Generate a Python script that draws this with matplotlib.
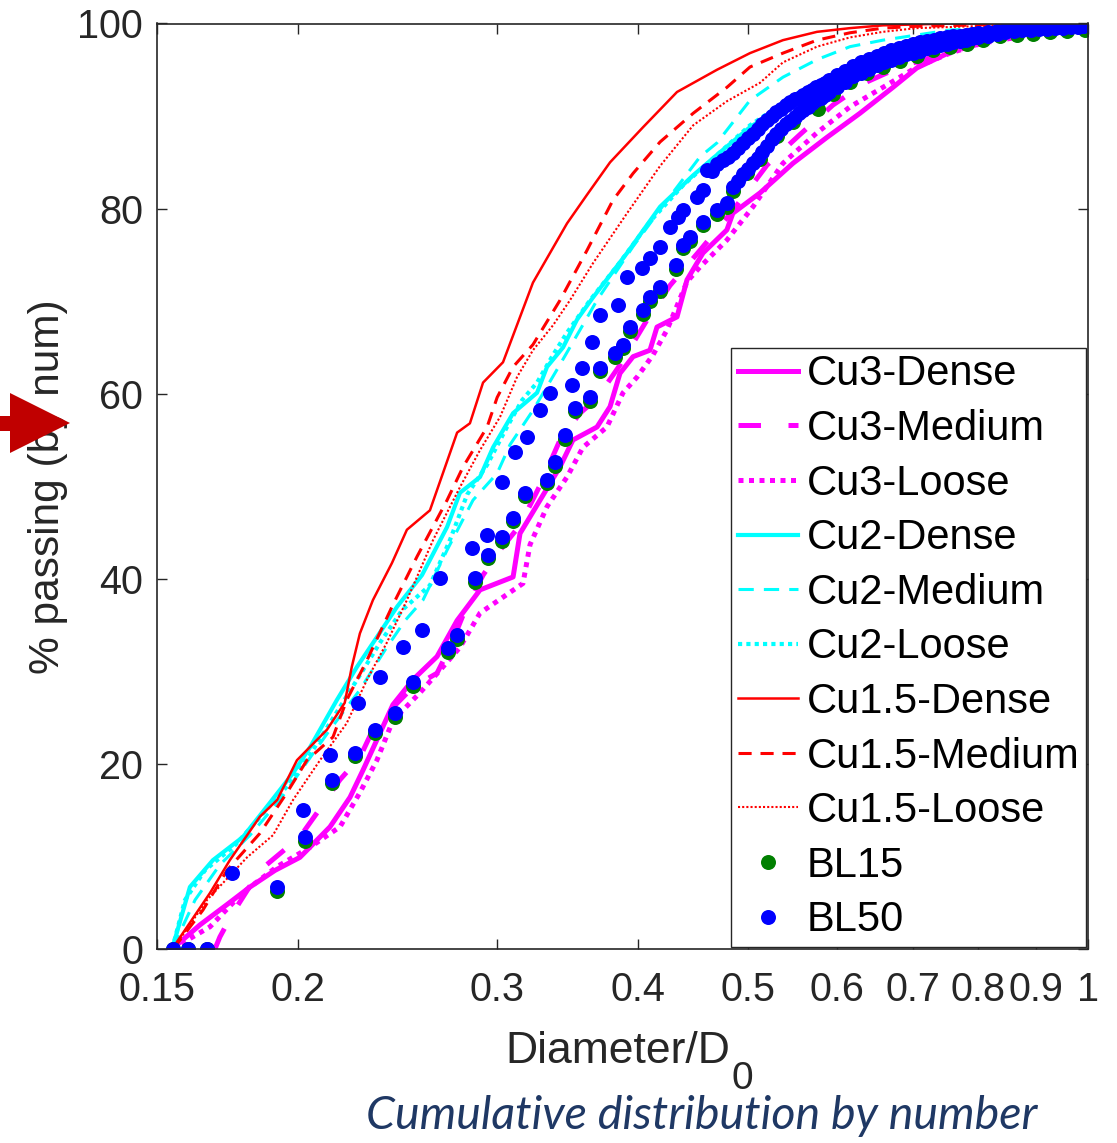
import matplotlib
matplotlib.use("Agg")
import matplotlib.pyplot as plt
from matplotlib.patches import Polygon
from matplotlib.ticker import FixedLocator, FixedFormatter, NullLocator

# ---------------------------------------------------------------- data
# Cumulative % passing (by number) versus normalised diameter D/D0

cu3_dense_d = [0.1547, 0.1637, 0.1730, 0.1813, 0.1908, 0.2007, 0.2134, 0.2223, 0.2282,
               0.2348, 0.2426, 0.2527, 0.2654, 0.2765, 0.2897, 0.3099, 0.3143, 0.3274,
               0.3410, 0.3501, 0.3677, 0.3776, 0.3853, 0.3957, 0.4096, 0.4155, 0.4328,
               0.4417, 0.4563, 0.4791, 0.4850, 0.5126, 0.5482, 0.5875, 0.6283, 0.6720,
               0.7056, 0.7549, 0.8073, 0.8652, 0.9258, 1.0]
cu3_dense_p = [0, 2.6, 4.8, 6.7, 8.5, 9.9, 13.2, 16.4, 19.3,
               22.6, 26.4, 29.1, 31.6, 35.5, 38.8, 40.2, 44.9, 48.5,
               52.1, 55.0, 56.4, 58.6, 62.2, 64.0, 64.7, 67.2, 68.3,
               72.3, 75.2, 77.7, 79.5, 81.7, 84.9, 87.7, 90.3, 93.1,
               95.2, 96.9, 98.2, 99.0, 99.3, 99.6]

cu3_medium_d = [0.1688, 0.1705, 0.1751, 0.1850, 0.2007, 0.2078, 0.2178, 0.2268, 0.2329,
                0.2426, 0.2527, 0.2654, 0.2725, 0.2810, 0.2915, 0.3018, 0.3143, 0.3274,
                0.3410, 0.3552, 0.3677, 0.3853, 0.4096, 0.4267, 0.4536, 0.4850, 0.5199,
                0.5560, 0.5948, 0.6375, 0.6817, 0.7292, 0.8073, 0.8939, 1.0]
cu3_medium_p = [0, 1.3, 3.9, 8.5, 12.1, 14.7, 18.3, 20.7, 23.7,
                26.1, 28.3, 29.8, 32.6, 36.6, 40.4, 43.1, 45.8, 50.1,
                55.0, 57.9, 59.5, 63.1, 68.5, 71.7, 75.5, 79.8, 84.7,
                88.0, 91.2, 93.7, 95.3, 96.4, 97.9, 99.0, 99.4]

cu3_loose_d = [0.1547, 0.1671, 0.1787, 0.1916, 0.2049, 0.2178, 0.2268, 0.2348, 0.2426,
               0.2564, 0.2687, 0.2781, 0.2897, 0.3162, 0.3208, 0.3321, 0.3459, 0.3573,
               0.3752, 0.3877, 0.3990, 0.4122, 0.4241, 0.4417, 0.4536, 0.4791, 0.5053,
               0.5371, 0.5757, 0.6158, 0.6584, 0.7056, 0.7549, 0.8073, 0.8652, 0.9258, 1.0]
cu3_loose_p = [0, 2.4, 6.1, 8.9, 11.0, 13.2, 16.9, 20.4, 24.7,
               27.7, 30.5, 32.6, 36.3, 39.5, 43.7, 47.8, 51.0, 54.2,
               56.4, 60.1, 61.8, 64.2, 66.9, 72.1, 73.7, 76.6, 80.2,
               84.9, 88.2, 91.0, 93.1, 95.3, 96.8, 97.9, 98.5, 99.1, 99.3]

cu2_dense_d = [0.1547, 0.1604, 0.1681, 0.1787, 0.1888, 0.1979, 0.2049, 0.2164, 0.2255,
               0.2348, 0.2447, 0.2574, 0.2709, 0.2781, 0.2897, 0.2975, 0.3099, 0.3254,
               0.3321, 0.3431, 0.3530, 0.3647, 0.3909, 0.4181, 0.4473, 0.4695, 0.5022,
               0.5560, 0.6158, 0.6817, 0.7549, 0.8358, 1.0]
cu2_dense_p = [0, 6.7, 9.6, 12.1, 15.8, 19.0, 21.8, 26.9, 30.5,
               33.7, 37.0, 40.4, 45.6, 49.3, 51.0, 54.2, 57.9, 60.1,
               62.9, 65.0, 68.0, 70.4, 75.2, 80.2, 83.6, 85.8, 88.8,
               92.3, 95.0, 96.9, 98.2, 99.2, 99.9]

cu2_medium_d = [0.1547, 0.1621, 0.1705, 0.1813, 0.1927, 0.2028, 0.2134, 0.2268, 0.2387,
                0.2487, 0.2579, 0.2709, 0.2856, 0.3000, 0.3080, 0.3227, 0.3389, 0.3552,
                0.3677, 0.3957, 0.4241, 0.4536, 0.4695, 0.5022, 0.5371, 0.5757, 0.6158,
                0.6584, 0.7549, 1.0]
cu2_medium_p = [0, 5.3, 9.1, 12.3, 16.1, 19.9, 23.7, 28.0, 32.3,
                35.5, 37.7, 43.1, 48.5, 51.4, 54.5, 58.2, 62.6, 66.9,
                70.1, 75.9, 80.9, 85.6, 87.1, 91.7, 94.2, 96.1, 97.5,
                98.2, 99.3, 99.9]

cu2_loose_d = [0.1547, 0.1588, 0.1654, 0.1758, 0.1858, 0.1959, 0.2049, 0.2156, 0.2255,
               0.2363, 0.2471, 0.2616, 0.2725, 0.2822, 0.2939, 0.3061, 0.3156, 0.3254,
               0.3362, 0.3459, 0.3625, 0.3853, 0.4096, 0.4381, 0.4695, 0.5022, 0.5560,
               0.6158, 0.6817, 0.7549, 0.8358, 1.0]
cu2_loose_p = [0, 5.3, 8.5, 11.2, 14.5, 17.7, 21.0, 25.3, 29.1,
               33.1, 36.6, 39.3, 44.2, 49.1, 52.3, 56.4, 59.3, 61.2,
               64.2, 66.6, 70.1, 74.2, 78.6, 82.5, 85.8, 89.0, 92.6,
               95.5, 97.4, 98.5, 99.3, 99.9]

cu15_dense_d = [0.1547, 0.1671, 0.1740, 0.1850, 0.1916, 0.1995, 0.2121, 0.2199, 0.2231,
                0.2268, 0.2329, 0.2421, 0.2496, 0.2616, 0.2765, 0.2838, 0.2915, 0.3036,
                0.3227, 0.3459, 0.3603, 0.3776, 0.4039, 0.4328, 0.4695, 0.5022, 0.5371,
                0.5757, 0.6158, 0.6584, 0.7549, 1.0]
cu15_dense_p = [0, 6.05, 9.6, 14.3, 16.1, 20.4, 23.7, 26.6, 30.5,
                34.1, 37.7, 41.7, 45.3, 47.4, 55.8, 56.8, 61.2, 63.4,
                72.0, 78.4, 81.5, 85.0, 88.8, 92.6, 95.0, 96.8, 98.2,
                99.1, 99.5, 99.8, 100, 100]

cu15_medium_d = [0.1550, 0.1647, 0.1730, 0.1850, 0.1955, 0.2036, 0.2147, 0.2208, 0.2301,
                 0.2426, 0.2548, 0.2709, 0.2799, 0.2939, 0.3000, 0.3099, 0.3227, 0.3410,
                 0.3603, 0.3798, 0.3957, 0.4181, 0.4473, 0.4791, 0.5022, 0.5371, 0.5757,
                 0.6158, 0.6584, 0.7056, 0.8358, 1.0]
cu15_medium_p = [0, 4.2, 8.5, 12.5, 16.9, 20.4, 22.9, 26.9, 31.2,
                 37.2, 42.4, 48.5, 52.1, 56.4, 59.6, 62.9, 65.3, 70.1,
                 75.5, 80.9, 83.8, 87.2, 90.3, 93.1, 95.3, 96.8, 98.2,
                 99.0, 99.5, 99.7, 99.9, 100]

cu15_loose_d = [0.1550, 0.1661, 0.1802, 0.1900, 0.1979, 0.2091, 0.2208, 0.2301, 0.2396,
                0.2496, 0.2633, 0.2781, 0.2897, 0.3018, 0.3124, 0.3227, 0.3362, 0.3480,
                0.3647, 0.3909, 0.4181, 0.4473, 0.4791, 0.5126, 0.5371, 0.5757, 0.6158,
                0.6584, 0.7056, 0.8358, 1.0]
cu15_loose_p = [0, 5.3, 9.9, 12.3, 16.1, 20.4, 24.4, 29.1, 33.1,
                37.7, 44.2, 49.9, 53.9, 57.5, 61.8, 64.7, 67.4, 70.1,
                74.1, 79.5, 84.6, 89.0, 91.6, 93.6, 95.8, 97.5, 98.5,
                99.1, 99.5, 99.8, 100]

# Ball-lattice measurements
bl15_d = [0.1550, 0.1598, 0.1661, 0.1916, 0.2028, 0.2143, 0.2245, 0.2339, 0.2437,
          0.2527, 0.2714, 0.2765, 0.2868, 0.2945, 0.3030, 0.3099, 0.3175, 0.3321,
          0.3375, 0.3445, 0.3516, 0.3625, 0.3699, 0.3814, 0.3877, 0.3933, 0.4039,
          0.4097, 0.4181, 0.4319, 0.4381, 0.4444, 0.4563, 0.4695, 0.4791, 0.4850,
          0.4992, 0.5126, 0.5306, 0.5482, 0.5768, 0.5948, 0.6158, 0.6375, 0.6584,
          0.6817, 0.7056, 0.7292, 0.7549, 0.7817, 0.8073, 0.8358, 0.8652, 0.8939,
          0.9258, 0.9580, 0.9938]
bl15_p = [0, 0, 0, 6.3, 11.7, 17.9, 20.8, 23.3, 25.1,
          28.4, 32.1, 33.5, 39.7, 42.2, 44.1, 46.2, 48.9, 50.3,
          52.2, 55.1, 58.1, 59.2, 62.4, 64.0, 64.9, 66.8, 68.6,
          70.0, 71.1, 73.5, 75.7, 76.5, 78.2, 79.4, 80.2, 81.9,
          83.8, 85.4, 87.8, 89.4, 90.8, 92.4, 93.7, 94.6, 95.3,
          96.0, 96.5, 97.1, 97.5, 97.8, 98.2, 98.6, 98.8, 98.9,
          99.1, 99.2, 99.3]

# BL50, coarser-side run of points
bl50_a_d = [0.1550, 0.1598, 0.1661, 0.1916, 0.2028, 0.2143, 0.2245, 0.2339, 0.2437,
            0.2527, 0.2714, 0.2765, 0.2868, 0.2945, 0.3030, 0.3099, 0.3175, 0.3321,
            0.3375, 0.3445, 0.3516, 0.3625, 0.3699, 0.3814, 0.3877, 0.3933, 0.4039,
            0.4097, 0.4181, 0.4319, 0.4381, 0.4444, 0.4563, 0.4695, 0.4791, 0.4850,
            0.490, 0.495, 0.500, 0.505, 0.510, 0.515, 0.520, 0.525, 0.530, 0.535,
            0.540, 0.545, 0.550, 0.555, 0.560, 0.565, 0.570, 0.575, 0.580, 0.585,
            0.590, 0.600, 0.610, 0.620, 0.630, 0.640, 0.650, 0.660, 0.670, 0.680,
            0.690, 0.700, 0.710, 0.720, 0.730, 0.740, 0.750, 0.760, 0.770, 0.780,
            0.790, 0.800, 0.815, 0.830, 0.845, 0.860, 0.875, 0.890, 0.905, 0.920,
            0.935, 0.950, 0.965, 0.980, 0.990]
bl50_a_p = [0, 0, 0, 6.7, 12.1, 18.3, 21.2, 23.7, 25.5,
            28.8, 32.5, 33.9, 40.1, 42.6, 44.5, 46.6, 49.3, 50.7,
            52.6, 55.5, 58.5, 59.6, 62.8, 64.4, 65.3, 67.2, 69.0,
            70.4, 71.5, 73.9, 76.1, 76.9, 78.6, 79.8, 80.6, 82.3,
            83.0, 83.7, 84.3, 84.9, 85.5, 86.1, 86.8, 87.5, 88.1, 88.6,
            89.1, 89.5, 89.9, 90.3, 90.7, 91.0, 91.4, 91.7, 92.0, 92.3,
            92.6, 93.1, 93.7, 94.3, 94.7, 95.1, 95.5, 95.8, 96.1, 96.4,
            96.7, 96.8, 97.0, 97.3, 97.5, 97.7, 97.8, 98.0, 98.1, 98.2,
            98.4, 98.5, 98.7, 98.9, 99.05, 99.15, 99.25, 99.3, 99.4, 99.45,
            99.5, 99.55, 99.6, 99.65, 99.7]

# BL50, finer-side run of points
bl50_b_d = [0.1748, 0.2019, 0.2134, 0.2259, 0.2363, 0.2476, 0.2574, 0.2670, 0.2850,
            0.2939, 0.3030, 0.3111, 0.3188, 0.3274, 0.3341, 0.3494, 0.3566, 0.3640,
            0.3699, 0.3837, 0.3909, 0.4031, 0.4096, 0.4181, 0.4267, 0.4337, 0.4381,
            0.4509, 0.4563, 0.4601,
            0.465, 0.470, 0.475, 0.480, 0.485, 0.490, 0.495, 0.500, 0.505, 0.510,
            0.515, 0.520, 0.525, 0.530, 0.535, 0.540, 0.545, 0.550, 0.555, 0.560,
            0.565, 0.570, 0.575, 0.580, 0.585, 0.590, 0.600, 0.610, 0.620, 0.630,
            0.640, 0.650, 0.660, 0.670, 0.680, 0.690, 0.700, 0.710, 0.720, 0.730,
            0.740, 0.750, 0.760, 0.770, 0.780, 0.790, 0.800, 0.815, 0.830, 0.845,
            0.860, 0.875, 0.890, 0.905, 0.920, 0.935, 0.950, 0.965, 0.980, 0.990, 1.0]
bl50_b_p = [8.2, 15.0, 21.0, 26.6, 29.4, 32.6, 34.5, 40.1, 43.3,
            44.7, 50.5, 53.7, 55.3, 58.2, 60.1, 60.9, 62.8, 65.6,
            68.5, 69.6, 72.6, 73.6, 74.7, 75.9, 78.0, 79.1, 79.8,
            81.3, 82.0, 84.2,
            84.1, 84.8, 85.2, 85.6, 86.0, 86.5, 87.1, 87.6, 88.1, 88.6,
            89.1, 89.6, 90.0, 90.4, 90.8, 91.2, 91.5, 91.8, 92.0, 92.3,
            92.6, 92.8, 93.1, 93.4, 93.6, 93.9, 94.4, 94.9, 95.4, 95.8,
            96.2, 96.5, 96.8, 97.1, 97.4, 97.6, 97.8, 97.95, 98.1, 98.25,
            98.4, 98.5, 98.6, 98.7, 98.8, 98.9, 99.0, 99.1, 99.2, 99.3,
            99.45, 99.5, 99.55, 99.55, 99.6, 99.65, 99.7, 99.7, 99.7, 99.75, 99.9]

x_ticks = [0.15, 0.2, 0.3, 0.4, 0.5, 0.6, 0.7, 0.8, 0.9, 1.0]
x_tick_labels = ["0.15", "0.2", "0.3", "0.4", "0.5", "0.6", "0.7", "0.8", "0.9", "1"]
y_ticks = [0, 20, 40, 60, 80, 100]

# ---------------------------------------------------------------- style
plt.rcParams["font.family"] = ["Liberation Sans", "DejaVu Sans"]
TXT = "#262626"

W, H = 1117, 1143
fig = plt.figure(figsize=(W / 100, H / 100), dpi=100)
ax_l, ax_r, ax_t, ax_b = 157, 1088, 23.5, 949
ax = fig.add_axes([ax_l / W, 1 - ax_b / H, (ax_r - ax_l) / W, (ax_b - ax_t) / H])

MAG, CYA, RED = "#FF00FF", "#00FFFF", "#FF0000"
series = [
    ("Cu3-Dense", cu3_dense_d, cu3_dense_p, MAG, "-", 3.6),
    ("Cu3-Medium", cu3_medium_d, cu3_medium_p, MAG, (0, (4.5, 5.5)), 3.6),
    ("Cu3-Loose", cu3_loose_d, cu3_loose_p, MAG, (0, (1.0, 1.1)), 3.6),
    ("Cu2-Dense", cu2_dense_d, cu2_dense_p, CYA, "-", 3.0),
    ("Cu2-Medium", cu2_medium_d, cu2_medium_p, CYA, (0, (5.0, 3.3)), 2.2),
    ("Cu2-Loose", cu2_loose_d, cu2_loose_p, CYA, (0, (1.0, 1.0)), 3.0),
    ("Cu1.5-Dense", cu15_dense_d, cu15_dense_p, RED, "-", 1.8),
    ("Cu1.5-Medium", cu15_medium_d, cu15_medium_p, RED, (0, (4.3, 2.9)), 2.2),
    ("Cu1.5-Loose", cu15_loose_d, cu15_loose_p, RED, (0, (1.0, 1.0)), 1.5),
]
for name, d, p, col, ls, lw in series:
    ax.plot(d, p, color=col, linestyle=ls, linewidth=lw, label=name,
            dash_capstyle="butt", solid_joinstyle="round")

ax.plot(bl15_d, bl15_p, linestyle="none", marker="o", markersize=10.8,
        color="#008000", markeredgewidth=0, label="BL15")
ax.plot(bl50_a_d + bl50_b_d, bl50_a_p + bl50_b_p, linestyle="none", marker="o",
        markersize=10.8, color="#0000FF", markeredgewidth=0, label="BL50")

# ---------------------------------------------------------------- axes
ax.set_xscale("log")
ax.set_xlim(0.15, 1.0)
ax.set_ylim(0, 100)
ax.xaxis.set_major_locator(FixedLocator(x_ticks))
ax.xaxis.set_major_formatter(FixedFormatter(x_tick_labels))
ax.xaxis.set_minor_locator(NullLocator())
ax.set_yticks(y_ticks)
ax.tick_params(axis="both", which="major", direction="in", length=7, width=1.0,
               colors=TXT, labelsize=28.5, top=True, right=True)
ax.tick_params(axis="x", pad=16)
ax.tick_params(axis="y", pad=10)
for sp in ax.spines.values():
    sp.set_color(TXT)
    sp.set_linewidth(1.2)

ax.set_ylabel("% passing (by num)", fontsize=30.5, color=TXT)
ax.yaxis.set_label_coords((68 - ax_l) / (ax_r - ax_l), 0.5)
xl = ax.set_xlabel("Diameter/D", fontsize=32, color=TXT)
ax.xaxis.set_label_coords(0.495, -(1031 - ax_b) / (ax_b - ax_t))
ax.annotate("0", xy=(1.0, 0.0), xycoords=xl, xytext=(1, -17),
            textcoords="offset pixels", ha="left", va="baseline",
            fontsize=28, color=TXT)

leg = ax.legend(loc="lower right", bbox_to_anchor=(1.0, 0.0), borderaxespad=0.05,
                fontsize=30, frameon=True, fancybox=False, edgecolor=TXT,
                framealpha=1, handlelength=1.45, handletextpad=0.2,
                labelspacing=0.35, borderpad=0.16, numpoints=1)
leg.get_frame().set_linewidth(1.0)
for t in leg.get_texts():
    t.set_color("black")

# caption below the axes
fig.text(702 / W, 1 - 1116 / H, "Cumulative distribution by number",
         fontsize=33.5, style="italic", family="Lato", color="#1F3864",
         ha="center", va="center")

# pointer arrow at the left edge
arrow_px = [(0, 416), (10, 416), (10, 393), (70, 423), (10, 453), (10, 431), (0, 431)]
arrow = Polygon([(x / W, 1 - y / H) for x, y in arrow_px], closed=True,
                transform=fig.transFigure, facecolor="#C00000", edgecolor="none",
                zorder=10)
fig.patches.append(arrow)

fig.savefig("out.png", dpi=100)
